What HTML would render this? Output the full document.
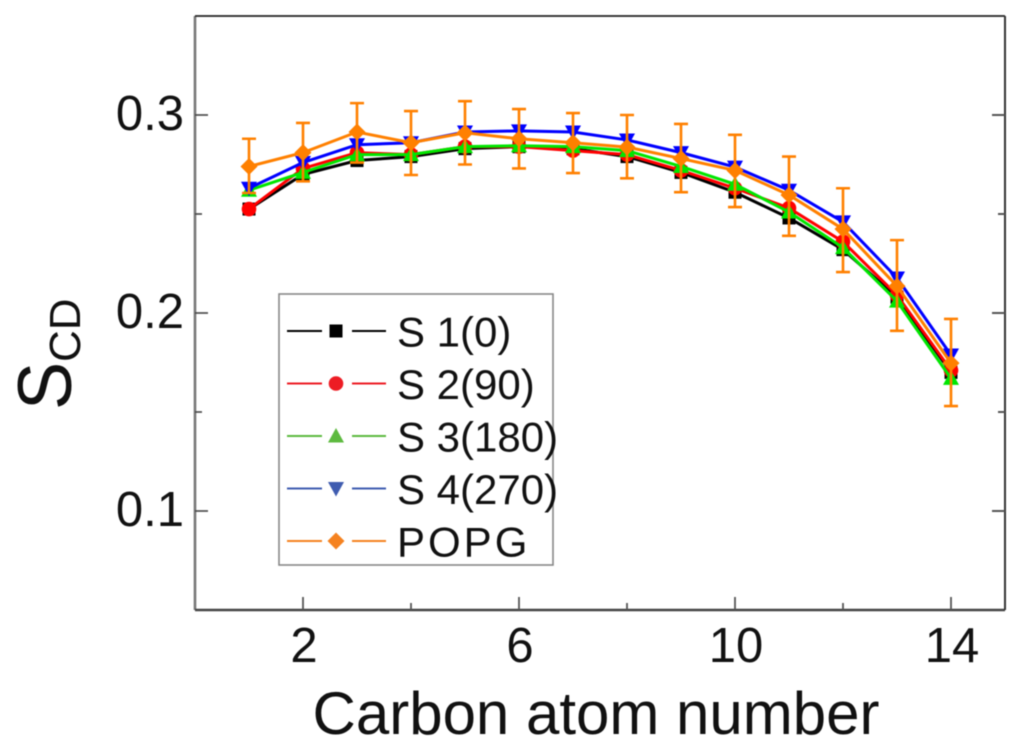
<!DOCTYPE html>
<html>
<head>
<meta charset="utf-8">
<title>Order parameter chart</title>
<style>
html,body{margin:0;padding:0;background:#fff;width:1024px;height:752px;overflow:hidden}
svg{display:block;filter:blur(0.5px)}
text{font-family:"Liberation Sans",sans-serif;fill:#111}
</style>
</head>
<body>
<svg id="chart" width="1024" height="752" viewBox="0 0 1024 752" xmlns="http://www.w3.org/2000/svg">
  <rect width="1024" height="752" fill="#fff"/>
  <g id="series-layer"></g>
  <g id="axis-layer"></g>
  <text x="596" y="734" font-size="60" text-anchor="middle">Carbon atom number</text>
  <g>
    <text transform="translate(71,410) rotate(-90) scale(0.95,1)" font-size="76">S</text>
    <text transform="translate(80,362) rotate(-90)" font-size="44">CD</text>
  </g>
  <g id="legend"></g>
</svg>
<script>
const carbons = [1,2,3,4,5,6,7,8,9,10,11,12,13,14];
const s1Values = [0.2525,0.270,0.277,0.279,0.283,0.284,0.283,0.279,0.271,0.261,0.248,0.232,0.208,0.170];
const s2Values = [0.2525,0.273,0.281,0.280,0.284,0.284,0.282,0.280,0.272,0.263,0.253,0.236,0.209,0.171];
const s3Values = [0.262,0.271,0.280,0.280,0.284,0.2845,0.284,0.282,0.274,0.265,0.251,0.233,0.206,0.167];
const s4Values = [0.263,0.276,0.285,0.286,0.2914,0.292,0.2914,0.2874,0.281,0.2737,0.262,0.246,0.2177,0.1788];
const popgValues = [0.274,0.281,0.2914,0.286,0.291,0.288,0.286,0.2838,0.278,0.272,0.2596,0.2424,0.2136,0.1747];
const popgErrTop = [0.288,0.296,0.306,0.302,0.307,0.303,0.301,0.300,0.2955,0.290,0.279,0.263,0.2368,0.197];
const popgErrBottom = [0.2606,0.2665,0.276,0.2697,0.275,0.273,0.2707,0.268,0.261,0.2535,0.239,0.2207,0.191,0.153];
const xTickLabels = [2,6,10,14];
const xMinorTicks = [4,8,12];
const yTickLabels = [0.1,0.2,0.3];
const yMinorTicks = [0.15,0.25];
const legendLabels = ["S 1(0)","S 2(90)","S 3(180)","S 4(270)","POPG"];

const NS = "http://www.w3.org/2000/svg";
const plot = {left:195,right:1005,top:16,bottom:610,xMin:0,xMax:15,yMin:0.05,yMax:0.35};
function xScale(v){return plot.left+(v-plot.xMin)/(plot.xMax-plot.xMin)*(plot.right-plot.left);}
function yScale(v){return plot.bottom-(v-plot.yMin)/(plot.yMax-plot.yMin)*(plot.bottom-plot.top);}
function make(tag,attrs,parent){
  const el=document.createElementNS(NS,tag);
  for(const k in attrs){el.setAttribute(k,attrs[k]);}
  parent.appendChild(el);
  return el;
}
function marker(kind,cx,cy,r,fill,parent){
  if(kind==="square"){return make("rect",{x:cx-r,y:cy-r,width:2*r,height:2*r,fill:fill},parent);}
  if(kind==="circle"){return make("circle",{cx:cx,cy:cy,r:r+0.8,fill:fill},parent);}
  if(kind==="up"){return make("polygon",{points:(cx)+","+(cy-r-1.5)+" "+(cx+r+1.5)+","+(cy+r)+" "+(cx-r-1.5)+","+(cy+r),fill:fill},parent);}
  if(kind==="down"){return make("polygon",{points:(cx)+","+(cy+r+1.5)+" "+(cx+r+1.5)+","+(cy-r)+" "+(cx-r-1.5)+","+(cy-r),fill:fill},parent);}
  return make("polygon",{points:(cx)+","+(cy-r-2)+" "+(cx+r+2)+","+(cy)+" "+(cx)+","+(cy+r+2)+" "+(cx-r-2)+","+(cy),fill:fill},parent);
}
const seriesLayer=document.getElementById("series-layer");
const seriesDefs=[
  {id:"s1",values:s1Values,color:"#000000",kind:"square",legendColor:"#000000"},
  {id:"s2",values:s2Values,color:"#ff0000",kind:"circle",legendColor:"#ed1c24"},
  {id:"s3",values:s3Values,color:"#00e600",kind:"up",legendColor:"#5dba3f"},
  {id:"s4",values:s4Values,color:"#0000ff",kind:"down",legendColor:"#3f5cb0"},
  {id:"popg",values:popgValues,color:"#ff8000",kind:"diamond",legendColor:"#f58220"}
];
seriesDefs.forEach(function(s){
  const g=make("g",{},seriesLayer);
  
  
  const line=make("polyline",{points:s.values.map(function(v,i){return xScale(carbons[i])+","+yScale(v);}).join(" "),fill:"none",stroke:s.color,"stroke-width":3},g);
  
  
  if(s.id==="popg"){
    popgValues.forEach(function(v,i){
      const x=xScale(carbons[i]),t=yScale(popgErrTop[i]),b=yScale(popgErrBottom[i]);
      const eb=make("path",{d:"M"+x+" "+t+"V"+b+"M"+(x-7)+" "+t+"H"+(x+7)+"M"+(x-7)+" "+b+"H"+(x+7),stroke:s.color,"stroke-width":2.6,fill:"none"},g);
      
      
    });
  }
  s.values.forEach(function(v,i){
    const m=marker(s.kind,xScale(carbons[i]),yScale(v),6.5,s.color,g);
    
    
  });
});
const axisLayer=document.getElementById("axis-layer");
const frameLeft=make("line",{x1:plot.left,y1:plot.top,x2:plot.left,y2:plot.bottom,stroke:"#777","stroke-width":2.6},axisLayer);


const frameBottom=make("line",{x1:plot.left,y1:plot.bottom,x2:plot.right,y2:plot.bottom,stroke:"#444","stroke-width":2.4},axisLayer);


const frameTop=make("line",{x1:plot.left,y1:plot.top,x2:plot.right,y2:plot.top,stroke:"#222","stroke-width":1.8},axisLayer);


const frameRight=make("line",{x1:plot.right,y1:plot.top,x2:plot.right,y2:plot.bottom,stroke:"#333","stroke-width":2},axisLayer);


xTickLabels.forEach(function(v){
  const x=xScale(v);
  const t=make("line",{x1:x,y1:plot.bottom,x2:x,y2:plot.bottom-13,stroke:"#555","stroke-width":1.8},axisLayer);
  
  
  const l=make("text",{x:x+1,y:662,"font-size":49,"text-anchor":"middle"},axisLayer);
  
  
  l.textContent=String(v);
});
xMinorTicks.forEach(function(v){
  const x=xScale(v);
  const t=make("line",{x1:x,y1:plot.bottom,x2:x,y2:plot.bottom-7,stroke:"#555","stroke-width":1.8},axisLayer);
  
  
});
yTickLabels.forEach(function(v){
  const y=yScale(v);
  const t=make("line",{x1:plot.left,y1:y,x2:plot.left+13,y2:y,stroke:"#444","stroke-width":1.6},axisLayer);
  
  
  const tr=make("line",{x1:plot.right,y1:y,x2:plot.right-13,y2:y,stroke:"#555","stroke-width":2},axisLayer);
  
  
  const l=make("text",{x:184,y:y+15,"font-size":49,"text-anchor":"end"},axisLayer);
  
  
  l.textContent=v.toFixed(1);
});
yMinorTicks.forEach(function(v){
  const y=yScale(v);
  const t=make("line",{x1:plot.left,y1:y,x2:plot.left+7,y2:y,stroke:"#444","stroke-width":1.6},axisLayer);
  
  
  const tr=make("line",{x1:plot.right,y1:y,x2:plot.right-7,y2:y,stroke:"#555","stroke-width":2},axisLayer);
  
  
});
const legend=document.getElementById("legend");
const legendBox=make("rect",{x:279,y:294,width:274,height:271,fill:"#fff",stroke:"#888","stroke-width":1.6},legend);


legendLabels.forEach(function(label,i){
  const y=331+i*52.5;
  const s=seriesDefs[i];
  const g=make("g",{},legend);
  
  
  make("line",{x1:287,y1:y,x2:322,y2:y,stroke:s.legendColor,"stroke-width":2},g);
  make("line",{x1:352,y1:y,x2:386,y2:y,stroke:s.legendColor,"stroke-width":2},g);
  marker(s.kind,336,y,6.5,s.legendColor,g);
  const t=make("text",{x:397,y:y+15.5,"font-size":42,"letter-spacing":i===4?3:0},g);
  
  
  t.textContent=label;
});
</script>
</body>
</html>
